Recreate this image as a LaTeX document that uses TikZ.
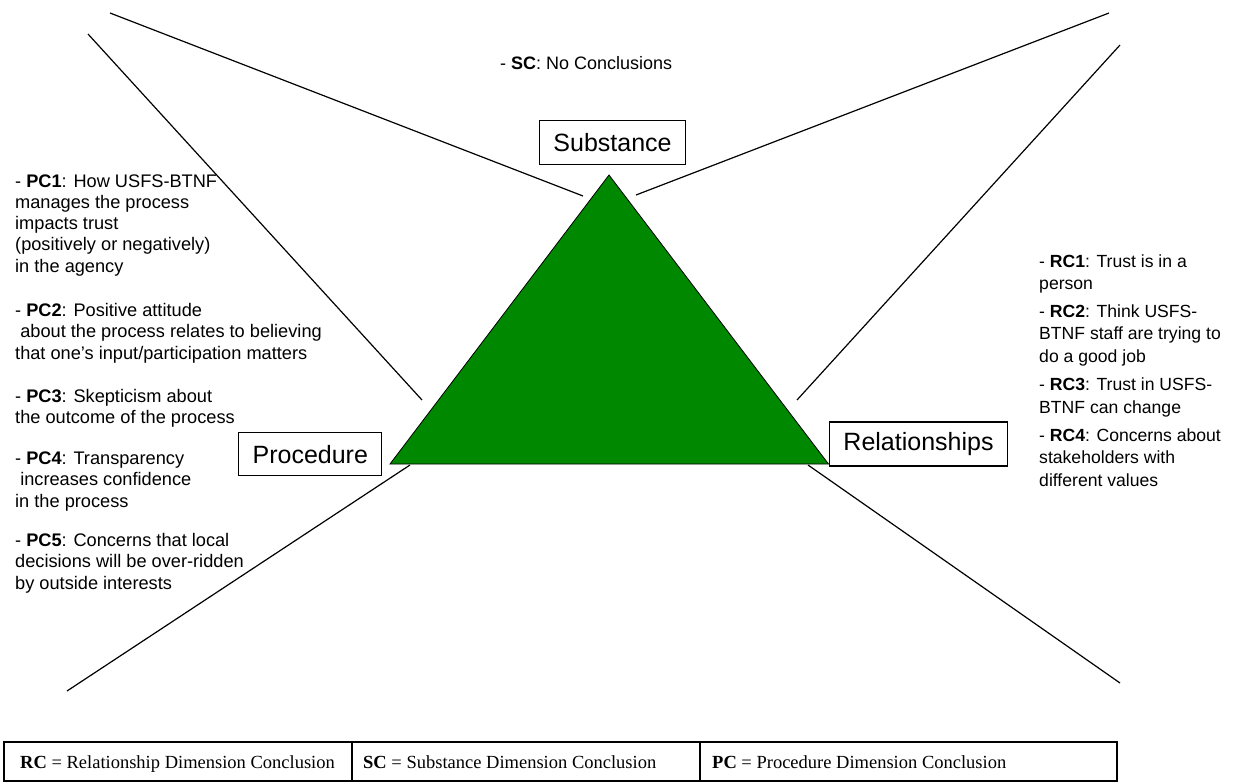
\documentclass[tikz,border=0pt]{standalone}
\usepackage{fontspec}
\setmainfont{Liberation Sans}
\newfontfamily\serifface{Liberation Serif}
\definecolor{trigreen}{RGB}{0,136,0}
\begin{document}
\begin{tikzpicture}[x=1pt,y=-1pt,
  ray/.style={line width=1.2pt, black},
  dimbox/.style={draw, line width=1.2pt, fill=white, inner sep=0pt,
    font=\fontsize{25}{30}\selectfont},
  leftnote/.style={anchor=base west, align=left, inner sep=0pt,
    font=\fontsize{18.2}{21.3}\selectfont},
  rightnote/.style={anchor=base west, align=left, inner sep=0pt,
    font=\fontsize{17.6}{22.5}\selectfont},
  keycell/.style={anchor=base west, inner sep=0pt,
    font=\serifface\fontsize{18.5}{22}\selectfont},
  keyrule/.style={line width=1.2pt, black}]
\useasboundingbox (0,0) rectangle (1233,782);
\clip (0,0) rectangle (1233,782);

% end points of the six rays around the triangle
\coordinate (tlA) at (110,13);   \coordinate (tlB) at (583,196);
\coordinate (ulA) at (88,34);    \coordinate (ulB) at (422,400);
\coordinate (trA) at (1109,13);  \coordinate (trB) at (636,195);
\coordinate (urA) at (1120,45);  \coordinate (urB) at (797,400);
\coordinate (llA) at (410,465);  \coordinate (llB) at (67,691);
\coordinate (lrA) at (808,465);  \coordinate (lrB) at (1120,683);
\draw[ray] (tlA) -- (tlB);
\draw[ray] (ulA) -- (ulB);
\draw[ray] (trA) -- (trB);
\draw[ray] (urA) -- (urB);
\draw[ray] (llA) -- (llB);
\draw[ray] (lrA) -- (lrB);

% the triangle
\coordinate (apex) at (609,175);
\coordinate (baseL) at (390,464);
\coordinate (baseR) at (828.5,464);
\draw[fill=trigreen, line width=0.8pt] (apex) -- (baseL) -- (baseR) -- cycle;

% dimension labels
\node[dimbox, minimum width=146pt, minimum height=44pt] (substance) at (612.5,142.8) {Substance};
\node[dimbox, minimum width=143pt, minimum height=43pt] (procedure) at (310.3,454.3) {Procedure};
\node[dimbox, minimum width=178pt, minimum height=44pt] (relationships) at (918.5,444) {Relationships};

% substance conclusions
\node[anchor=base west, inner sep=0pt, font=\fontsize{18}{21}\selectfont] (sc) at (500,69)
  {- \textbf{SC}: No Conclusions};

% procedure conclusions (placed by the baseline of their last line)
\node[leftnote] (pc1) at (15,272.2) {- \textbf{PC1}: How USFS-BTNF\\manages the process\\impacts trust\\(positively or negatively)\\in the agency};
\node[leftnote] (pc2) at (15,359.1) {- \textbf{PC2}: Positive attitude\\\hspace*{0.28em}about the process relates to believing\\that one's input/participation matters};
\node[leftnote] (pc3) at (15,423.3) {- \textbf{PC3}: Skepticism about\\the outcome of the process};
\node[leftnote] (pc4) at (15,507.1) {- \textbf{PC4}: Transparency\\\hspace*{0.28em}increases confidence\\in the process};
\node[leftnote] (pc5) at (15,589.1) {- \textbf{PC5}: Concerns that local\\decisions will be over-ridden\\by outside interests};

% relationship conclusions
\node[rightnote] (rc1) at (1039,289.5) {- \textbf{RC1}: Trust is in a\\person};
\node[rightnote] (rc2) at (1039,362.3) {- \textbf{RC2}: Think USFS-\\BTNF staff are trying to\\do a good job};
\node[rightnote] (rc3) at (1039,413.1) {- \textbf{RC3}: Trust in USFS-\\BTNF can change};
\node[rightnote] (rc4) at (1039,486.3) {- \textbf{RC4}: Concerns about\\stakeholders with\\different values};

% key
\draw[keyrule] (4,742) rectangle (1117,781);
\draw[keyrule] (352,742) -- (352,781);
\draw[keyrule] (700,742) -- (700,781);
\node[keycell] (keyRC) at (20,768) {\textbf{RC} = Relationship Dimension Conclusion};
\node[keycell] (keySC) at (363,768) {\textbf{SC} = Substance Dimension Conclusion};
\node[keycell] (keyPC) at (712,768) {\textbf{PC} = Procedure Dimension Conclusion};
\end{tikzpicture}
\end{document}
